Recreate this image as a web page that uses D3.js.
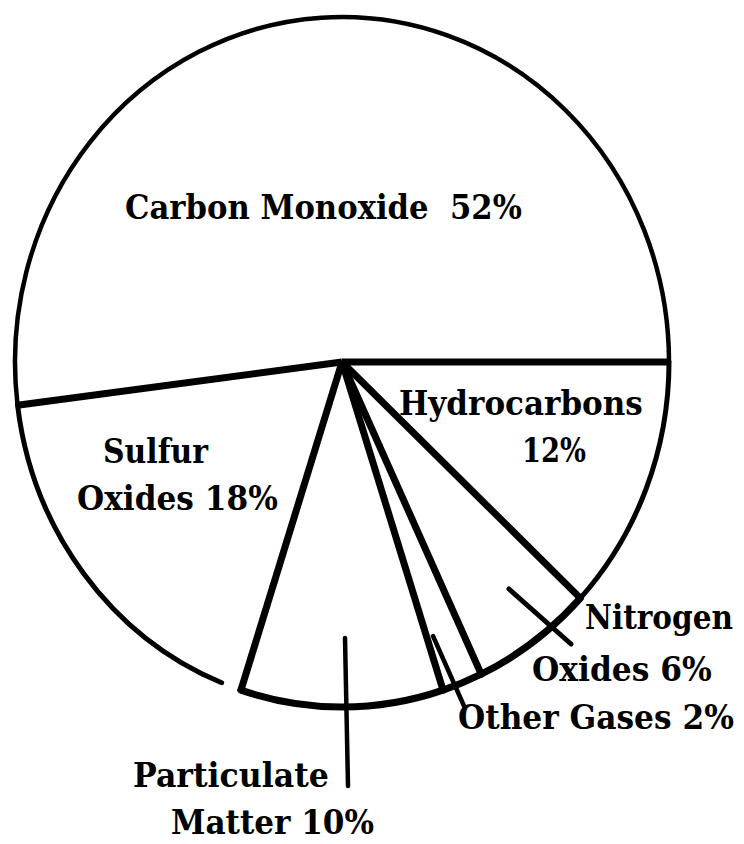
<!DOCTYPE html>
<html>
<head>
<meta charset="utf-8">
<script src="https://cdn.jsdelivr.net/npm/d3@7"></script>
<style>
  html, body { margin: 0; padding: 0; background: #fff; }
  svg { display: block; }
  .label {
    font-family: "DejaVu Serif", serif;
    font-weight: bold;
    font-size: 33px;
    fill: #000;
    white-space: pre;
  }
</style>
</head>
<body>
<svg id="chart" width="744" height="844"></svg>
<script>
// slices, counterclockwise from 3 o'clock
const categories = ['Carbon Monoxide', 'Sulfur Oxides', 'Particulate Matter', 'Other Gases', 'Nitrogen Oxides', 'Hydrocarbons'];
const percents = [52, 18, 10, 2, 6, 12];

// how each label is broken into lines
const labelSplit = ['none', 'words', 'words', 'none', 'words', 'pct'];

// label placement: [left x, baseline y, width] for each line
const labelPos = [
  [[125, 219, 397]],
  [[103, 463, 105], [77, 510, 201]],
  [[133, 787, 196], [171, 834, 203]],
  [[458, 729, 276]],
  [[585, 629, 148], [532, 681, 180]],
  [[399, 415, 244], [522, 462, 64]]
];

// leader lines [x1, y1, x2, y2, width]
const leaders = [
  [345, 638, 348, 786, 4.5],
  [433, 636, 464, 706, 4.5],
  [509, 589, 571, 644, 5]
];

const cx = 342, cy = 362, rx = 327, ry = 345;
const svg = d3.select('#chart');

const pie = d3.pie()
  .sort(null)
  .value(d => d)
  .startAngle(Math.PI / 2)
  .endAngle(Math.PI / 2 - 2 * Math.PI);

const arcs = pie(percents);

// pie is slightly taller than wide
const g = svg.append('g')
  .attr('transform', `translate(${cx},${cy}) scale(1,${ry / rx})`);

const arc = d3.arc().innerRadius(0).outerRadius(rx);

g.selectAll('path.slice')
  .data(arcs)
  .enter()
  .append('path')
  .attr('class', 'slice')
  .attr('d', arc)
  .style('fill', '#fff')
  .style('stroke', 'none');

// outer rim, drawn per slice (bottom part is heavier, small gap on the sulfur side)
const rimWidth = [4.5, 5, 7, 7, 7, 5];
const rimTrimEnd = [0, 3.6 * Math.PI / 180, 0, 0, 0, 0];

g.selectAll('path.rim')
  .data(arcs)
  .enter()
  .append('path')
  .attr('class', 'rim')
  .attr('d', (d, i) => {
    const p = d3.path();
    const a0 = d.startAngle - Math.PI / 2;
    const a1 = d.endAngle + rimTrimEnd[i] - Math.PI / 2;
    p.arc(0, 0, rx, a0, a1, true);
    return p.toString();
  })
  .style('fill', 'none')
  .style('stroke', '#000')
  .style('stroke-width', (d, i) => rimWidth[i])
  .style('stroke-linecap', 'round')
  .attr('vector-effect', 'non-scaling-stroke');

// slice boundaries
g.selectAll('line.edge')
  .data(arcs)
  .enter()
  .append('line')
  .attr('class', 'edge')
  .attr('x1', 0)
  .attr('y1', 0)
  .attr('x2', d => d3.pointRadial(d.startAngle, rx + 2)[0])
  .attr('y2', d => d3.pointRadial(d.startAngle, rx + 2)[1])
  .style('stroke', '#000')
  .style('stroke-width', 7)
  .style('stroke-linecap', 'butt')
  .attr('vector-effect', 'non-scaling-stroke');

// leader lines
svg.selectAll('line.leader')
  .data(leaders)
  .enter()
  .append('line')
  .attr('class', 'leader')
  .attr('x1', d => d[0])
  .attr('y1', d => d[1])
  .attr('x2', d => d[2])
  .attr('y2', d => d[3])
  .style('stroke', '#000')
  .style('stroke-width', d => d[4])
  .style('stroke-linecap', 'round');

// labels
const linesFor = (i) => {
  const name = categories[i], pct = percents[i] + '%';
  if (labelSplit[i] === 'words') {
    const w = name.split(' ');
    return [w[0], w[1] + ' ' + pct];
  }
  if (labelSplit[i] === 'pct') return [name, pct];
  return [name + (i === 0 ? '  ' : ' ') + pct];
};

// squeeze each line horizontally to the printed width
categories.forEach((c, i) => {
  linesFor(i).forEach((txt, j) => {
    const pos = labelPos[i][j];
    const t = svg.append('text')
      .attr('class', 'label')
      .attr('x', 0)
      .attr('y', 0)
      .text(txt);
    const natural = t.node().getComputedTextLength();
    t.attr('transform', `translate(${pos[0]},${pos[1]}) scale(${pos[2] / natural},1)`);
  });
});
</script>
</body>
</html>
